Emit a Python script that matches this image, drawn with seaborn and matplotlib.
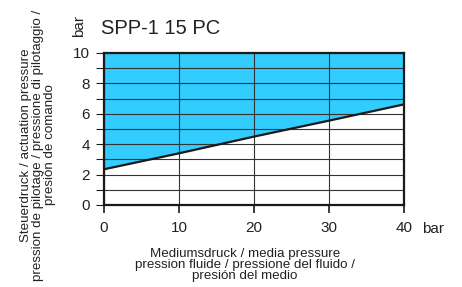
import matplotlib
matplotlib.use("Agg")
import matplotlib.pyplot as plt
import seaborn as sns
import numpy as np
import pandas as pd
from matplotlib.ticker import MultipleLocator

# Data
media_pressure = [0, 10, 20, 30, 40]
actuation_pressure = [2.35, 3.4, 4.5, 5.55, 6.62]
x_ticks = [0, 10, 20, 30, 40]
y_ticks = [0, 2, 4, 6, 8, 10]
title = "SPP-1 15 PC"
xlabel = "Mediumsdruck / media pressure\npression fluide / pressione del fluido /\npresión del medio"
ylabel = "Steuerdruck / actuation pressure\npression de pilotage / pressione di pilotaggio /\npresión de comando"

sns.set_theme(style="white")
plt.rcParams['font.family'] = ['Liberation Sans', 'DejaVu Sans']

df = pd.DataFrame({"x": media_pressure, "y": actuation_pressure})

fig = plt.figure(figsize=(4.62, 2.87), dpi=100)
ax = fig.add_axes([104/462, 1-205/287, 300/462, 152/287])

ax.fill_between(df["x"], df["y"], 10, color="#33CCFF", zorder=1, linewidth=0)
sns.lineplot(data=df, x="x", y="y", ax=ax, color="#1a1a1a", linewidth=1.6, zorder=3)

ax.set_xlim(0, 40)
ax.set_ylim(0, 10)
ax.set_xticks(x_ticks)
ax.set_yticks(y_ticks)
ax.yaxis.set_minor_locator(MultipleLocator(1))
ax.set_axisbelow('line')
ax.grid(True, which='both', axis='y', color="#333333", linewidth=0.8)
ax.grid(True, which='major', axis='x', color="#333333", linewidth=0.8)

for s in ax.spines.values():
    s.set_visible(True)
    s.set_color("#1a1a1a")
    s.set_linewidth(1.6)
    s.set_zorder(4)

ax.tick_params(axis='x', which='major', direction='out', length=5.5, width=1.2,
               color="#1a1a1a", labelsize=11, pad=6, bottom=True, labelcolor="#222222")
ax.tick_params(axis='y', which='both', direction='out', length=6, width=0.8,
               color="#1a1a1a", labelsize=11, pad=4, left=True, labelcolor="#222222")
ax.set_xlabel("")
ax.set_ylabel("")

fig.text(101/462, 1-29/287, title, fontsize=14.5, ha='left', va='center', color="#222222")
fig.text(79/462, 1-26/287, "bar", fontsize=11, rotation=90, ha='center', va='center', color="#222222")
fig.text(433/462, 1-229/287, "bar", fontsize=11, ha='center', va='center', color="#222222")
fig.text(245/462, 1-265/287, xlabel, fontsize=9.6, ha='center', va='center',
         multialignment='center', linespacing=0.9, color="#222222")
fig.text(38/462, 1-145/287, ylabel, fontsize=9.6, rotation=90, ha='center', va='center',
         multialignment='center', linespacing=1.0, color="#222222")

fig.savefig("out.png", dpi=100)
